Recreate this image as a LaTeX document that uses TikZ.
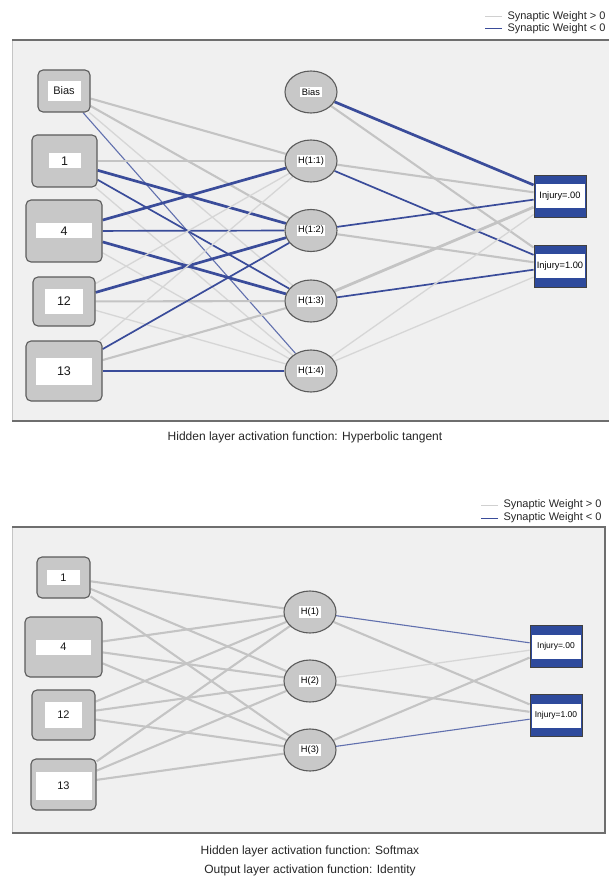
\documentclass[tikz,border=0pt]{standalone}
\usepackage{fontspec}
\setmainfont{Liberation Sans}
\usepackage{xcolor}
\usetikzlibrary{shapes.geometric,backgrounds}

\definecolor{panelfill}{HTML}{F0F0F0}
\definecolor{panelrim}{HTML}{6E6E6E}
\definecolor{unitfill}{HTML}{C8C8C8}
\definecolor{unitrim}{HTML}{5C5C5C}
\definecolor{posw}{HTML}{C4C4C4}
\definecolor{negw}{HTML}{3A4C9A}
\definecolor{outfill}{HTML}{2E4A9C}

\newcommand{\fsz}[1]{\fontsize{#1}{#1}\selectfont}

\pgfdeclarelayer{panel}
\pgfsetlayers{panel,background,main}

\begin{document}
\begin{tikzpicture}[
    x=1pt, y=-1pt,
    font=\fsz{9},
    inbox/.style={
        rectangle,
        rounded corners=5pt,
        draw=unitrim,
        line width=1.1pt,
        fill=unitfill
    },
    inlabel/.style={
        rectangle,
        fill=white,
        inner sep=0pt,
        text=black!90
    },
    hidunit/.style={
        ellipse,
        draw=unitrim,
        line width=1.1pt,
        fill=unitfill,
        minimum width=52,
        minimum height=42
    },
    hidlabel/.style={
        rectangle,
        fill=white,
        inner sep=1.5pt,
        font=\fsz{9.3}
    },
    outunit/.style={
        rectangle,
        draw=black!75,
        line width=0.9pt,
        fill=outfill,
        minimum width=52,
        minimum height=42
    },
    outlabel/.style={
        rectangle,
        fill=white,
        inner sep=0pt,
        minimum width=49,
        minimum height=24
    },
    wpos1/.style={posw!70, line width=1.3pt},
    wpos2/.style={posw, line width=2.1pt},
    wpos3/.style={posw, line width=2.8pt},
    wneg1/.style={negw!80, line width=1.1pt},
    wneg2/.style={negw, line width=1.7pt},
    wneg3/.style={negw, line width=2.7pt},
    legend/.style={anchor=east, font=\fsz{11}, text=black!85},
    caption/.style={font=\fsz{12}, text=black!85}
]
    \useasboundingbox (0,0) rectangle (609,882);

    % panel backgrounds
    \begin{pgfonlayer}{panel}
        \fill[panelfill] (12,40) rectangle (609,421);
        \draw[panelrim!40, line width=0.8pt] (12,40) -- (12,421);
        \draw[panelrim, line width=1.4pt] (12,40) -- (609,40);
        \draw[panelrim, line width=1.2pt] (12,421) -- (609,421);

        \fill[panelfill] (12,527) rectangle (605,833);
        \draw[panelrim!40, line width=0.8pt] (12,527) -- (12,833);
        \draw[panelrim, line width=1.4pt] (12,527) -- (605,527) -- (605,833) -- (12,833);
    \end{pgfonlayer}

    % ---- first network ----
    \node[legend] (lgpa) at (609,17) {Synaptic Weight > 0};
    \node[legend] (lgna) at (609,29) {Synaptic Weight < 0};
    \draw[posw!80, line width=1pt] ([xshift=-2]lgpa.west) -- ++(-17,0);
    \draw[negw, line width=1pt] ([xshift=-2]lgna.west) -- ++(-17,0);

    \node[inbox, minimum width=52, minimum height=42] (bi) at (64,91) {};
    \node[inlabel, minimum width=33, minimum height=20, font=\fsz{11}] (bi-l) at (bi) {Bias};
    \node[inbox, minimum width=65, minimum height=52] (ia1) at (64.5,161) {};
    \node[inlabel, minimum width=32, minimum height=15, font=\fsz{12.5}] (ia1-l) at (ia1) {1};
    \node[inbox, minimum width=76, minimum height=62] (ia4) at (64,231) {};
    \node[inlabel, minimum width=56, minimum height=15, font=\fsz{12.5}] (ia4-l) at (ia4) {4};
    \node[inbox, minimum width=62, minimum height=49] (ia12) at (64,301.5) {};
    \node[inlabel, minimum width=38, minimum height=25, font=\fsz{12.5}] (ia12-l) at (ia12) {12};
    \node[inbox, minimum width=76, minimum height=60] (ia13) at (64,371) {};
    \node[inlabel, minimum width=56, minimum height=27, font=\fsz{12.5}] (ia13-l) at (ia13) {13};

    \node[hidunit] (hb) at (311,92) {};
    \node[hidlabel] (hb-l) at (hb) {Bias};
    \node[hidunit] (h11) at (311,161) {};
    \node[hidlabel] (h11-l) at (h11) {H(1:1)};
    \node[hidunit] (h12) at (311,230.5) {};
    \node[hidlabel] (h12-l) at (h12) {H(1:2)};
    \node[hidunit] (h13) at (311,301) {};
    \node[hidlabel] (h13-l) at (h13) {H(1:3)};
    \node[hidunit] (h14) at (311,371) {};
    \node[hidlabel] (h14-l) at (h14) {H(1:4)};

    \node[outunit] (oa0) at (560,196) {};
    \node[outlabel, font=\fsz{9.3}] (oa0-l) at (oa0) {Injury=.00};
    \node[outunit] (oa1) at (560,266) {};
    \node[outlabel, font=\fsz{9.3}] (oa1-l) at (oa1) {Injury=1.00};

    \begin{pgfonlayer}{background}
        \foreach \a/\b/\w in {bi/h11/wpos2, bi/h12/wpos2, bi/h13/wpos1, bi/h14/wneg1,
                ia1/h11/wpos2, ia1/h12/wneg3, ia1/h13/wneg2, ia1/h14/wpos1,
                ia4/h11/wneg3, ia4/h12/wneg2, ia4/h13/wneg3, ia4/h14/wpos1,
                ia12/h11/wpos1, ia12/h12/wneg3, ia12/h13/wpos2, ia12/h14/wpos1,
                ia13/h11/wpos1, ia13/h12/wneg2, ia13/h13/wpos2, ia13/h14/wneg2,
                hb/oa0/wneg3, hb/oa1/wpos2, h11/oa0/wpos2, h11/oa1/wneg2,
                h12/oa0/wneg2, h12/oa1/wpos2, h13/oa0/wpos3, h13/oa1/wneg2,
                h14/oa0/wpos1, h14/oa1/wpos1}
            \draw[\w] (\a) -- (\b);
    \end{pgfonlayer}

    \node[caption] (capa) at (305,437) {Hidden layer activation function: Hyperbolic tangent};

    % ---- second network ----
    \node[legend] (lgpb) at (605,505) {Synaptic Weight > 0};
    \node[legend] (lgnb) at (605,518) {Synaptic Weight < 0};
    \draw[posw!80, line width=1pt] ([xshift=-2]lgpb.west) -- ++(-17,0);
    \draw[negw, line width=1pt] ([xshift=-2]lgnb.west) -- ++(-17,0);

    \node[inbox, minimum width=53, minimum height=41] (ib1) at (63.5,577.5) {};
    \node[inlabel, minimum width=33, minimum height=15, font=\fsz{11}] (ib1-l) at (ib1) {1};
    \node[inbox, minimum width=77, minimum height=60] (ib4) at (63.5,647) {};
    \node[inlabel, minimum width=55, minimum height=15, font=\fsz{11}] (ib4-l) at (ib4) {4};
    \node[inbox, minimum width=63, minimum height=50] (ib12) at (63.5,715) {};
    \node[inlabel, minimum width=37, minimum height=26, font=\fsz{11}] (ib12-l) at (ib12) {12};
    \node[inbox, minimum width=65, minimum height=51] (ib13) at (63.5,784.5) {};
    \node[inlabel, minimum width=56, minimum height=28, font=\fsz{11}] (ib13-l) at ([yshift=-1.5]ib13) {13};

    \node[hidunit] (g1) at (310,612) {};
    \node[hidlabel] (g1-l) at (g1) {H(1)};
    \node[hidunit] (g2) at (310,681) {};
    \node[hidlabel] (g2-l) at (g2) {H(2)};
    \node[hidunit] (g3) at (310,750) {};
    \node[hidlabel] (g3-l) at (g3) {H(3)};

    \node[outunit] (ob0) at (556,646.5) {};
    \node[outlabel, font=\fsz{8.5}] (ob0-l) at (ob0) {Injury=.00};
    \node[outunit] (ob1) at (556,715.5) {};
    \node[outlabel, font=\fsz{8.5}] (ob1-l) at (ob1) {Injury=1.00};

    \begin{pgfonlayer}{background}
        \foreach \a in {ib1,ib4,ib12,ib13}
            \foreach \b in {g1,g2,g3}
                \draw[wpos2] (\a) -- (\b);
        \foreach \a/\b/\w in {g1/ob0/wneg1, g1/ob1/wpos2, g2/ob0/wpos1,
                g2/ob1/wpos2, g3/ob0/wpos2, g3/ob1/wneg1}
            \draw[\w] (\a) -- (\b);
    \end{pgfonlayer}

    \node[caption] (capb) at (310,851) {Hidden layer activation function: Softmax};
    \node[caption] (capc) at (310,870.5) {Output layer activation function: Identity};
\end{tikzpicture}
\end{document}
